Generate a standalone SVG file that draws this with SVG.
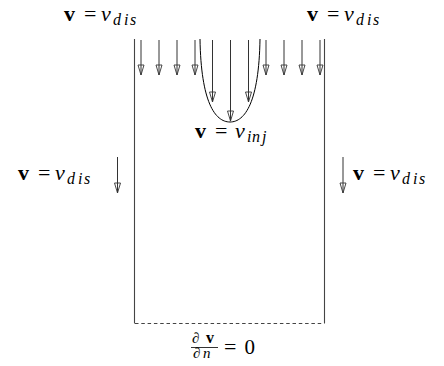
<svg xmlns="http://www.w3.org/2000/svg" width="444" height="366" viewBox="0 0 444 366">
<defs>
<marker id="ah" markerUnits="userSpaceOnUse" orient="auto" markerWidth="12" markerHeight="8" refX="0" refY="0" viewBox="-11 -4 12 8" overflow="visible">
<path d="M0,0 L-10,-3 L-10,3 Z" fill="none" stroke="#333" stroke-width="0.9"/>
</marker>
</defs>
<style>
.wall{stroke:#444;stroke-width:1.1;fill:none}
.arr{stroke:#333;stroke-width:1;fill:none;marker-end:url(#ah)}
text{font-family:"Liberation Serif",serif}
.b{font-weight:bold;font-size:22px}
.eq{font-size:22px}
.i{font-style:italic;font-size:22px}
.s{font-style:italic;font-size:16px}
</style>
<g id="box">
<line class="wall" x1="134.5" y1="39" x2="134.5" y2="323.5"/>
<line class="wall" x1="324.5" y1="39" x2="324.5" y2="323.5"/>
<line x1="135" y1="323.5" x2="324" y2="323.5" stroke="#444" stroke-width="1.1" stroke-dasharray="3.5,2.8"/>
</g>
<g id="injection">
<path d="M200,39 C201,102 215,122 230,122 C245,122 259,102 260,39" fill="none" stroke="#000" stroke-width="1"/>
</g>
<g id="connectors">
<line class="arr" x1="141" y1="40" x2="141" y2="75"/>
<line class="arr" x1="159" y1="40" x2="159" y2="75"/>
<line class="arr" x1="177" y1="40" x2="177" y2="75"/>
<line class="arr" x1="195" y1="40" x2="195" y2="75"/>
<line class="arr" x1="212.5" y1="40" x2="212.5" y2="102"/>
<line class="arr" x1="230.5" y1="40" x2="230.5" y2="121"/>
<line class="arr" x1="248.5" y1="40" x2="248.5" y2="102"/>
<line class="arr" x1="266" y1="40" x2="266" y2="75"/>
<line class="arr" x1="284" y1="40" x2="284" y2="75"/>
<line class="arr" x1="302" y1="40" x2="302" y2="75"/>
<line class="arr" x1="320" y1="40" x2="320" y2="75"/>
<line class="arr" x1="117.5" y1="157" x2="117.5" y2="193"/>
<line class="arr" x1="343" y1="157" x2="343" y2="193"/>
</g>
<g id="label-top-left">
<text font-family="Liberation Serif"><tspan class="b" x="64" y="21">v</tspan><tspan class="eq" x="84" y="21">=</tspan><tspan class="i" x="101" y="21">v</tspan><tspan class="s" x="113 124 130" y="25">dis</tspan></text>
</g>
<g id="label-top-right">
<text font-family="Liberation Serif"><tspan class="b" x="307" y="21">v</tspan><tspan class="eq" x="327" y="21">=</tspan><tspan class="i" x="344" y="21">v</tspan><tspan class="s" x="356 367 373" y="25">dis</tspan></text>
</g>
<g id="label-inj">
<text font-family="Liberation Serif"><tspan class="b" x="195" y="138">v</tspan><tspan class="eq" x="215" y="138">=</tspan><tspan class="i" x="235" y="138">v</tspan><tspan class="s" x="247 252 262" y="142">inj</tspan></text>
</g>
<g id="label-left">
<text font-family="Liberation Serif"><tspan class="b" x="18" y="180">v</tspan><tspan class="eq" x="38" y="180">=</tspan><tspan class="i" x="55" y="180">v</tspan><tspan class="s" x="67 78 84" y="184">dis</tspan></text>
</g>
<g id="label-right">
<text font-family="Liberation Serif"><tspan class="b" x="353" y="180">v</tspan><tspan class="eq" x="373" y="180">=</tspan><tspan class="i" x="390" y="180">v</tspan><tspan class="s" x="402 413 419" y="184">dis</tspan></text>
</g>
<g id="label-bottom">
<text font-family="Liberation Serif"><tspan x="192" y="343" font-size="15" font-style="italic">∂</tspan><tspan x="206" y="343" font-size="16" font-weight="bold">v</tspan></text>
<line x1="191" y1="347.5" x2="218" y2="347.5" stroke="#000" stroke-width="0.8"/>
<text font-family="Liberation Serif"><tspan x="193" y="358" font-size="15" font-style="italic">∂</tspan><tspan x="203" y="358" font-size="15" font-style="italic">n</tspan></text>
<text font-family="Liberation Serif"><tspan class="eq" x="224" y="354">=</tspan><tspan x="244.5" y="354" font-size="21">0</tspan></text>
</g>
</svg>
